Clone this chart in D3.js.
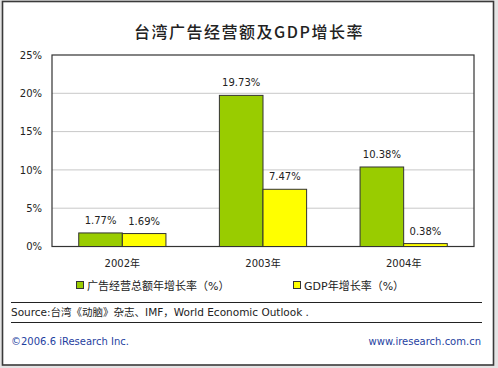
<!DOCTYPE html>
<html>
<head>
<meta charset="utf-8">
<script src="https://cdn.jsdelivr.net/npm/d3@7"></script>
<style>
  body { margin: 0; background: #fff; }
  text { font-family: "DejaVu Sans", "Noto Sans CJK SC", sans-serif; fill: #222; }
</style>
</head>
<body>
<div id="vis"></div>
<script>
// data
const years = ["2002年", "2003年", "2004年"];
const seriesNames = ["广告经营总额年增长率（%）", "GDP年增长率（%）"];
const adGrowth = [1.77, 19.73, 10.38];
const gdpGrowth = [1.69, 7.47, 0.38];
const yTicks = [0, 5, 10, 15, 20, 25];
const colors = ["#99cc00", "#ffff00"];

function drawChart() {
    const dimensions = {
        width: 498,
        height: 368,
        margin: {top: 55, right: 24, bottom: 121.5, left: 52}
    };
    dimensions.boundedWidth = dimensions.width - dimensions.margin.left - dimensions.margin.right;
    dimensions.boundedHeight = dimensions.height - dimensions.margin.top - dimensions.margin.bottom;

    const svg = d3.select("#vis")
        .append("svg")
        .attr("width", dimensions.width)
        .attr("height", dimensions.height);

    // grey strip under the frame
    svg.append("rect").attr("x", 0).attr("y", 0).attr("width", 498).attr("height", 368).attr("fill", "#e4e4e4");
    svg.append("rect")
        .attr("x", 2.5).attr("y", 1.5)
        .attr("width", 491).attr("height", 363.5)
        .attr("fill", "#fff")
        .attr("stroke", "#3a3a3a")
        .attr("stroke-width", 1.6);

    // title
    svg.append("text")
        .attr("x", 249).attr("y", 38)
        .attr("text-anchor", "middle")
        .style("font-family", "'Noto Sans CJK SC', sans-serif")
        .style("font-size", "16px")
        .style("font-weight", "500")
        .style("letter-spacing", "1.5px")
        .text("台湾广告经营额及GDP增长率");

    const bounds = svg.append("g")
        .attr("transform", `translate(${dimensions.margin.left}, ${dimensions.margin.top})`);

    // scales
    const xScale = d3.scaleBand()
        .domain(years)
        .range([0, dimensions.boundedWidth])
        .paddingInner(0.38)
        .paddingOuter(0.19);

    const xSub = d3.scaleBand()
        .domain([0, 1])
        .range([0, xScale.bandwidth()]);

    const yScale = d3.scaleLinear()
        .domain([0, 25])
        .range([dimensions.boundedHeight, 0]);

    // gridlines
    bounds.selectAll(".grid")
        .data(yTicks.slice(1, -1))
        .join("line")
        .attr("x1", 0).attr("x2", dimensions.boundedWidth)
        .attr("y1", d => yScale(d)).attr("y2", d => yScale(d))
        .attr("stroke", "#c8c8c8");

    // plot frame
    bounds.append("rect")
        .attr("x", 0).attr("y", 0)
        .attr("width", dimensions.boundedWidth)
        .attr("height", dimensions.boundedHeight)
        .attr("fill", "none")
        .attr("stroke", "#333")
        .attr("stroke-width", 1.2);

    // y axis
    const yAxis = d3.axisLeft(yScale)
        .tickValues(yTicks)
        .tickFormat(d => d + "%")
        .tickSize(0)
        .tickPadding(10);
    const yG = bounds.append("g").call(yAxis);
    yG.select(".domain").remove();
    yG.selectAll("text").style("font-size", "10px");

    // x axis
    const xAxis = d3.axisBottom(xScale).tickSize(0).tickPadding(13);
    const xG = bounds.append("g")
        .attr("transform", `translate(0, ${dimensions.boundedHeight})`)
        .call(xAxis);
    xG.select(".domain").remove();
    xG.selectAll("text")
        .style("font-size", "10px")
        .style("font-family", "'DejaVu Sans', 'Noto Sans CJK SC', sans-serif");

    // bars
    const rows = years.map((y, i) => ({year: y, values: [adGrowth[i], gdpGrowth[i]]}));
    const groups = bounds.selectAll(".grp")
        .data(rows)
        .join("g")
        .attr("transform", d => `translate(${xScale(d.year)}, 0)`);

    groups.selectAll("rect")
        .data(d => d.values.map((v, k) => ({k, v})))
        .join("rect")
        .attr("x", d => xSub(d.k))
        .attr("y", d => yScale(d.v))
        .attr("width", xSub.bandwidth())
        .attr("height", d => yScale(0) - yScale(d.v))
        .attr("fill", d => colors[d.k])
        .attr("stroke", "#333")
        .attr("stroke-width", 1);

    groups.selectAll(".lbl")
        .data(d => d.values.map((v, k) => ({k, v})))
        .join("text")
        .attr("x", d => xSub(d.k) + xSub.bandwidth() / 2)
        .attr("y", d => yScale(d.v) - 9)
        .attr("text-anchor", "middle")
        .style("font-size", "10px")
        .text(d => d.v.toFixed(2) + "%");

    // legend
    const legendX = [76, 293];
    const legend = svg.selectAll(".legend")
        .data(seriesNames)
        .join("g")
        .attr("transform", (d, i) => `translate(${legendX[i]}, 281)`);
    legend.append("rect")
        .attr("x", 0.5).attr("y", 0.5)
        .attr("width", 7).attr("height", 7)
        .attr("fill", (d, i) => colors[i])
        .attr("stroke", "#333");
    legend.append("text")
        .attr("x", 11).attr("y", 8.5)
        .style("font-size", "11px")
        .text(d => d);

    // separators
    [302.5, 322.5].forEach(y => {
        svg.append("line")
            .attr("x1", 11).attr("x2", 482)
            .attr("y1", y).attr("y2", y)
            .attr("stroke", "#222");
    });

    svg.append("text")
        .attr("x", 11).attr("y", 316)
        .style("font-size", "10.5px")
        .text("Source:台湾《动脑》杂志、IMF，World Economic Outlook .");

    svg.append("text")
        .attr("x", 11).attr("y", 345)
        .style("font-size", "10px")
        .style("fill", "#1f3f9f")
        .text("©2006.6 iResearch Inc.");

    svg.append("text")
        .attr("x", 481).attr("y", 345)
        .attr("text-anchor", "end")
        .style("font-size", "10px")
        .style("fill", "#1f3f9f")
        .text("www.iresearch.com.cn");
}

drawChart();
</script>
</body>
</html>
